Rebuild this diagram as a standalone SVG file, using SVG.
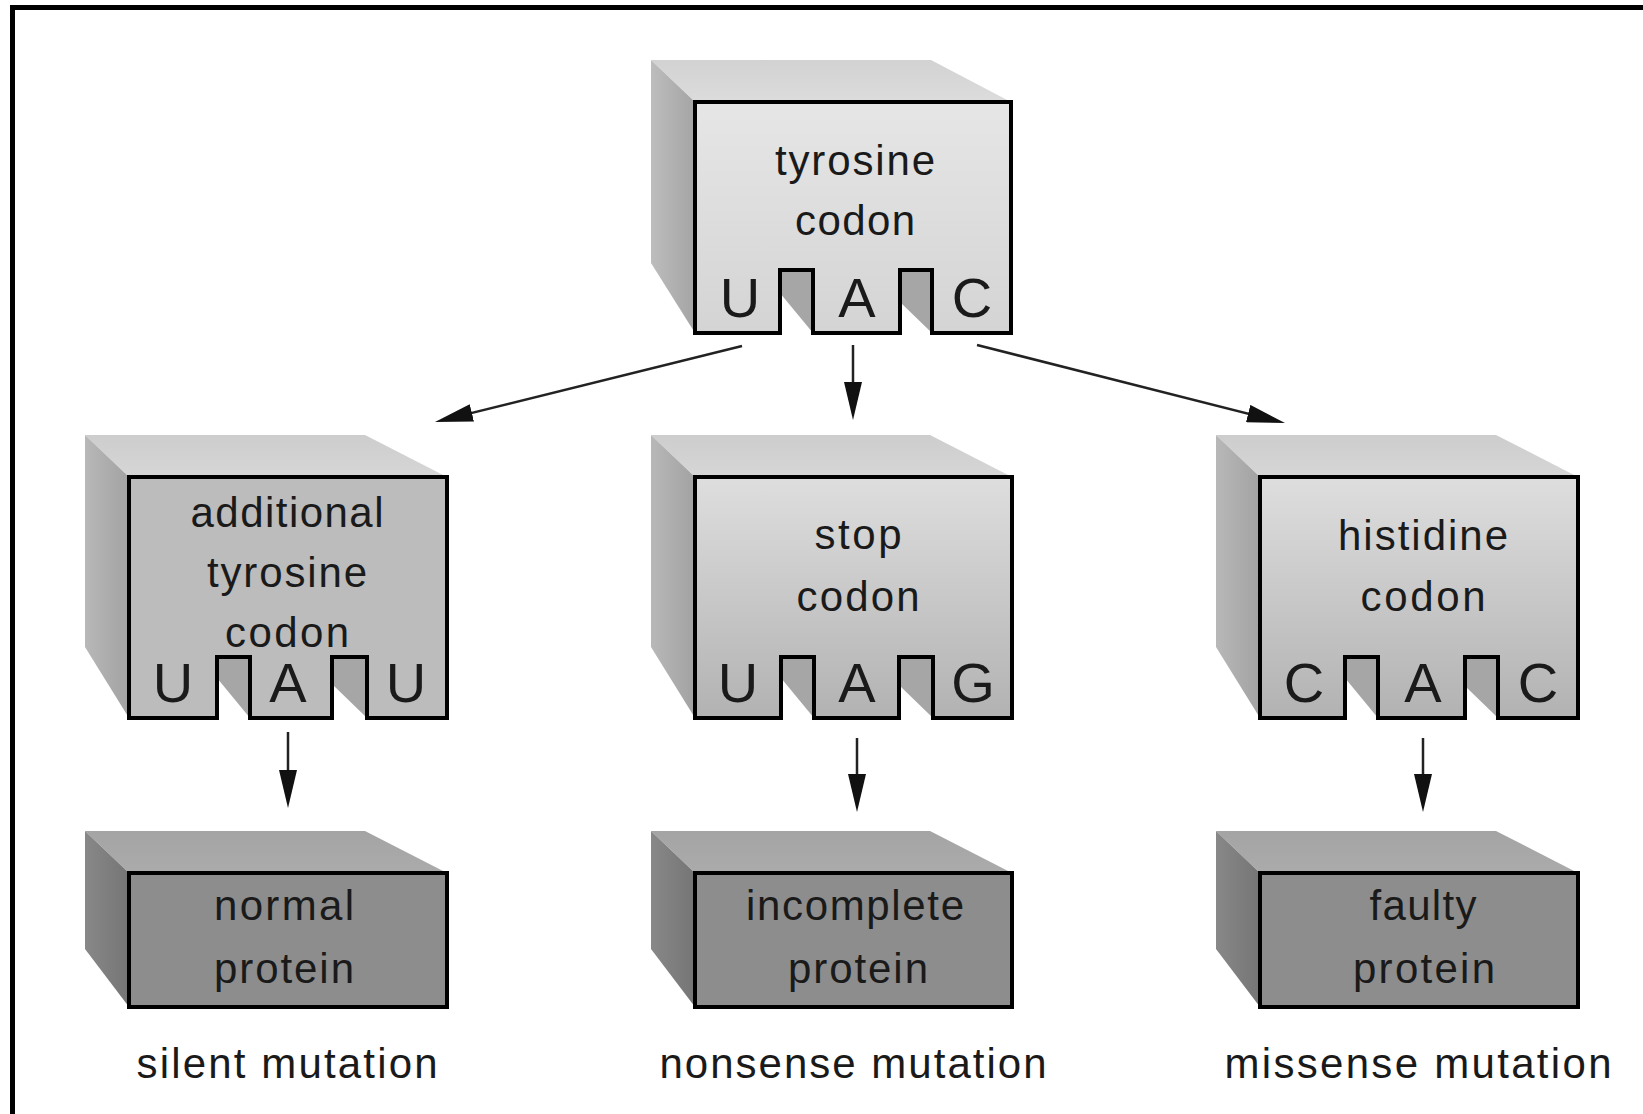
<svg xmlns="http://www.w3.org/2000/svg" width="1643" height="1114" viewBox="0 0 1643 1114">
<style>
.t{font-family:"Liberation Sans",Arial,sans-serif;font-size:42px;fill:#1a1a1a;text-anchor:middle}
.b{font-family:"Liberation Sans",Arial,sans-serif;font-size:56px;fill:#1a1a1a;text-anchor:middle}
.fr{stroke:#000;stroke-width:4;stroke-linejoin:miter}
.c{stroke:#222;stroke-width:2.5;fill:none;marker-end:url(#ah)}
.top1{fill:url(#gTop1)}
.side1{fill:url(#gSide1)}
.front1{fill:url(#gFront1)}
.top2{fill:url(#gTop2)}
.side2{fill:url(#gSide2)}
.front2a{fill:#bcbcbc}
.front2{fill:url(#gFront2)}
.wall{fill:#a6a6a6}
.top3{fill:url(#gTop3)}
.side3{fill:url(#gSide3)}
.front3{fill:#8d8d8d}
</style>
<defs>
<marker id="ah" viewBox="0 0 38 18" refX="28" refY="9" markerWidth="38" markerHeight="18" markerUnits="userSpaceOnUse" orient="auto">
<path d="M0,0 L38,9 L0,18 Z" fill="#111"/>
</marker>
<linearGradient id="gTop1" x1="0" y1="0" x2="0" y2="1"><stop offset="0" stop-color="#d2d2d2"/><stop offset="1" stop-color="#dcdcdc"/></linearGradient>
<linearGradient id="gSide1" x1="0" y1="0" x2="1" y2="0"><stop offset="0" stop-color="#bdbdbd"/><stop offset="1" stop-color="#a4a4a4"/></linearGradient>
<linearGradient id="gFront1" x1="0" y1="0" x2="0" y2="1"><stop offset="0" stop-color="#e6e6e6"/><stop offset="1" stop-color="#d4d4d4"/></linearGradient>
<linearGradient id="gTop2" x1="0" y1="0" x2="0" y2="1"><stop offset="0" stop-color="#cdcdcd"/><stop offset="1" stop-color="#d6d6d6"/></linearGradient>
<linearGradient id="gSide2" x1="0" y1="0" x2="1" y2="0"><stop offset="0" stop-color="#b8b8b8"/><stop offset="1" stop-color="#a2a2a2"/></linearGradient>
<linearGradient id="gFront2" x1="0" y1="0" x2="0" y2="1"><stop offset="0" stop-color="#dedede"/><stop offset="1" stop-color="#b2b2b2"/></linearGradient>
<linearGradient id="gTop3" x1="0" y1="0" x2="0" y2="1"><stop offset="0" stop-color="#a4a4a4"/><stop offset="1" stop-color="#ababab"/></linearGradient>
<linearGradient id="gSide3" x1="0" y1="0" x2="1" y2="0"><stop offset="0" stop-color="#888"/><stop offset="1" stop-color="#757575"/></linearGradient>
</defs>
<rect width="1643" height="1114" fill="#fff"/>
<path d="M12.5,1114 V7.5 H1643" fill="none" stroke="#000" stroke-width="5"/>

<g id="node-tyrosine">
<polygon class="top1" points="651,60 931,60 1011,102 695,102"/>
<polygon class="side1" points="651,60 695,102 695,333 651,263"/>
<polygon class="wall" points="780,270 813,270 813,333 780,293"/>
<polygon class="wall" points="900,270 932,270 932,333 900,302"/>
<path class="front1 fr" d="M695,102 H1011 V333 H932 V270 H900 V333 H813 V270 H780 V333 H695 Z"/>
<text class="t" x="855" y="175" textLength="160" lengthAdjust="spacing">tyrosine</text>
<text class="t" x="855" y="235" textLength="120" lengthAdjust="spacing">codon</text>
<text class="b" x="740" y="317">U</text>
<text class="b" x="857" y="317">A</text>
<text class="b" x="972" y="317">C</text>
</g>

<g id="node-additional">
<polygon class="top2" points="85,435 365,435 447,477 129,477"/>
<polygon class="side2" points="85,435 129,477 129,718 85,647"/>
<polygon class="wall" points="217,657 250,657 250,718 217,678"/>
<polygon class="wall" points="332,657 367,657 367,718 332,684"/>
<path class="front2a fr" d="M129,477 H447 V718 H367 V657 H332 V718 H250 V657 H217 V718 H129 Z"/>
<text class="t" x="287" y="527" textLength="193" lengthAdjust="spacing">additional</text>
<text class="t" x="287" y="587" textLength="160" lengthAdjust="spacing">tyrosine</text>
<text class="t" x="287" y="647" textLength="124" lengthAdjust="spacing">codon</text>
<text class="b" x="173" y="702">U</text>
<text class="b" x="288" y="702">A</text>
<text class="b" x="406" y="702">U</text>
</g>

<g id="node-stop">
<polygon class="top2" points="651,435 930,435 1012,477 695,477"/>
<polygon class="side2" points="651,435 695,477 695,718 651,647"/>
<polygon class="wall" points="781,657 814,657 814,718 781,678"/>
<polygon class="wall" points="899,657 933,657 933,718 899,685"/>
<path class="front2 fr" d="M695,477 H1012 V718 H933 V657 H899 V718 H814 V657 H781 V718 H695 Z"/>
<text class="t" x="858" y="549" textLength="87" lengthAdjust="spacing">stop</text>
<text class="t" x="858" y="611" textLength="123" lengthAdjust="spacing">codon</text>
<text class="b" x="738" y="702">U</text>
<text class="b" x="857" y="702">A</text>
<text class="b" x="973" y="702">G</text>
</g>

<g id="node-histidine">
<polygon class="top2" points="1216,435 1496,435 1578,477 1260,477"/>
<polygon class="side2" points="1216,435 1260,477 1260,718 1216,647"/>
<polygon class="wall" points="1345,657 1378,657 1378,718 1345,678"/>
<polygon class="wall" points="1465,657 1498,657 1498,718 1465,686"/>
<path class="front2 fr" d="M1260,477 H1578 V718 H1498 V657 H1465 V718 H1378 V657 H1345 V718 H1260 Z"/>
<text class="t" x="1423" y="550" textLength="170" lengthAdjust="spacing">histidine</text>
<text class="t" x="1423" y="611" textLength="125" lengthAdjust="spacing">codon</text>
<text class="b" x="1304" y="702">C</text>
<text class="b" x="1423" y="702">A</text>
<text class="b" x="1538" y="702">C</text>
</g>

<g id="node-normal">
<polygon class="top3" points="85,831 365,831 447,873 129,873"/>
<polygon class="side3" points="85,831 129,873 129,1007 85,949"/>
<rect class="front3 fr" x="129" y="873" width="318" height="134"/>
<text class="t" x="284" y="920" textLength="140" lengthAdjust="spacing">normal</text>
<text class="t" x="284" y="983" textLength="140" lengthAdjust="spacing">protein</text>
</g>

<g id="node-incomplete">
<polygon class="top3" points="651,831 930,831 1012,873 695,873"/>
<polygon class="side3" points="651,831 695,873 695,1007 651,949"/>
<rect class="front3 fr" x="695" y="873" width="317" height="134"/>
<text class="t" x="855" y="920" textLength="218" lengthAdjust="spacing">incomplete</text>
<text class="t" x="858" y="983" textLength="140" lengthAdjust="spacing">protein</text>
</g>

<g id="node-faulty">
<polygon class="top3" points="1216,831 1496,831 1578,873 1260,873"/>
<polygon class="side3" points="1216,831 1260,873 1260,1007 1216,949"/>
<rect class="front3 fr" x="1260" y="873" width="318" height="134"/>
<text class="t" x="1423" y="920" textLength="107" lengthAdjust="spacing">faulty</text>
<text class="t" x="1424" y="983" textLength="142" lengthAdjust="spacing">protein</text>
</g>

<g id="labels">
<text class="t" x="287" y="1078" textLength="301" lengthAdjust="spacing">silent mutation</text>
<text class="t" x="853" y="1078" textLength="387" lengthAdjust="spacing">nonsense mutation</text>
<text class="t" x="1418" y="1078" textLength="387" lengthAdjust="spacing">missense mutation</text>
</g>

<g id="connectors">
<line class="c" x1="742" y1="346" x2="444.7" y2="419.6"/>
<line class="c" x1="853" y1="345" x2="853" y2="410"/>
<line class="c" x1="977" y1="345" x2="1275.3" y2="420.5"/>
<line class="c" x1="288" y1="732" x2="288" y2="798"/>
<line class="c" x1="857" y1="738" x2="857" y2="802"/>
<line class="c" x1="1423" y1="738" x2="1423" y2="802"/>
</g>
</svg>
